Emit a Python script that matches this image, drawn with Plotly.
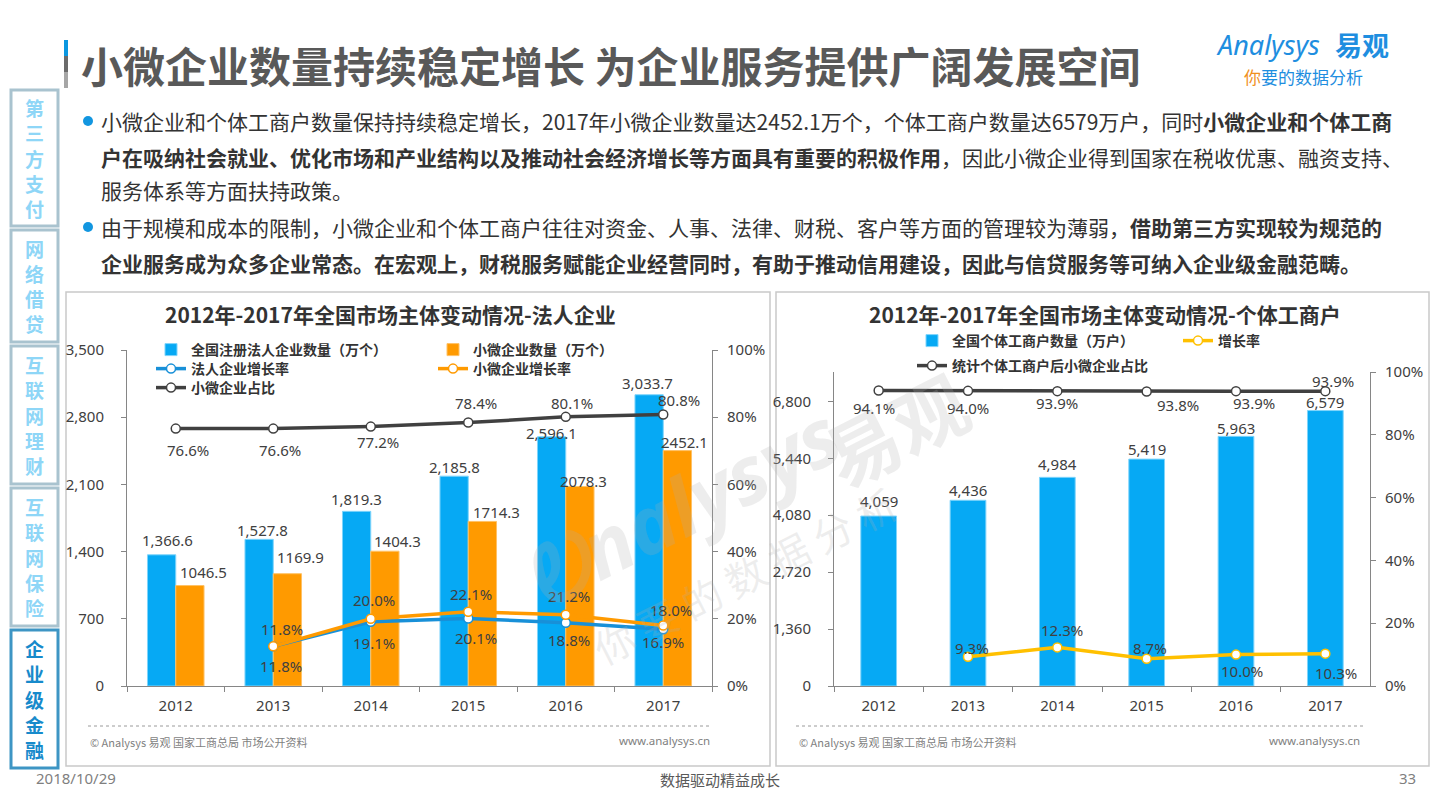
import plotly.graph_objects as go

W, H = 1440, 810
def px(x): return x / W
def py(y): return 1 - y / H

FONT_CJK = "Noto Sans CJK SC, Noto Sans, sans-serif"
FONT_NUM = "Noto Sans, Noto Sans CJK SC, sans-serif"
TXT = "#404040"

# ---------------- data ----------------
years = ["2012", "2013", "2014", "2015", "2016", "2017"]
corp_total = [1366.6, 1527.8, 1819.3, 2185.8, 2596.1, 3033.7]      # 全国注册法人企业数量（万个）
corp_small = [1046.5, 1169.9, 1404.3, 1714.3, 2078.3, 2452.1]      # 小微企业数量（万个）
corp_growth = [None, 11.8, 19.1, 20.1, 18.8, 16.9]                 # 法人企业增长率 %
small_growth = [None, 11.8, 20.0, 22.1, 21.2, 18.0]                # 小微企业增长率 %
small_share = [76.6, 76.6, 77.2, 78.4, 80.1, 80.8]                 # 小微企业占比 %

indiv_total = [4059, 4436, 4984, 5419, 5963, 6579]                 # 全国个体工商户数量（万户）
indiv_growth = [None, 9.3, 12.3, 8.7, 10.0, 10.3]                  # 增长率 %
indiv_share = [94.1, 94.0, 93.9, 93.8, 93.9, 93.9]                 # 统计个体工商户后小微企业占比 %

left_ticks = [0, 700, 1400, 2100, 2800, 3500]
right_ticks = [0, 1360, 2720, 4080, 5440, 6800]

# label offsets (px, screen: +x right, +y down)
corp_total_dx = [6, 3, 0, 0, 0, -2];      corp_total_dy = [-15, -9, -12, -9, -4, -12]
corp_small_dx = [14, 13, 13, 14, 4, 7];   corp_small_dy = [-14, -17, -10, -9, -5, -9]
small_share_dx = [12, 7, 7, 8, 6, 16];    small_share_dy = [21, 21, 15, -20, -14, -15]
small_growth_dx = [0, 9, 3, 3, 3, 8];     small_growth_dy = [0, -17, -19, -18, -19, -16]
corp_growth_dx = [0, 8, 3, 8, 3, 0];      corp_growth_dy = [0, 20, 21, 20, 17, 13]
indiv_total_dy = [-15, -10, -13, -10, -8, -9]
indiv_share_dx = [-5, 0, 0, 31, 18, 8];   indiv_share_dy = [17, 17, 12, 14, 12, -10]
indiv_growth_dx = [0, 4, 5, 3, 6, 11];    indiv_growth_dy = [0, -9, -17, -11, 16, 19]

BLUE = "#06A9F4"
ORANGE = "#FF9A00"
BLUE_LINE = "#1890D8"
BLACK_LINE = "#404040"
YELLOW = "#FFC000"

fig = go.Figure()

def line_trace(y, color, name, xa, ya, legend, width=3.5):
    return go.Scatter(
        x=years, y=[None if v is None else v / 100 for v in y], name=name,
        mode="lines+markers", xaxis=xa, yaxis=ya, legend=legend,
        line=dict(color=color, width=width),
        marker=dict(symbol="circle", size=9, color="white", line=dict(color=color, width=1.5)),
        cliponaxis=False, hoverinfo="skip")

# left chart
fig.add_trace(go.Bar(x=years, y=corp_total, name="全国注册法人企业数量（万个）", width=0.29, offset=-0.29,
                     marker=dict(color=BLUE, line=dict(color="#7fd4fb", width=1)), xaxis="x", yaxis="y",
                     legend="legend", hoverinfo="skip"))
fig.add_trace(go.Bar(x=years, y=corp_small, name="小微企业数量（万个）", width=0.29, offset=0,
                     marker=dict(color=ORANGE, line=dict(color="#ffc266", width=1)), xaxis="x", yaxis="y",
                     legend="legend", hoverinfo="skip"))
fig.add_trace(line_trace(corp_growth, BLUE_LINE, "法人企业增长率", "x", "y2", "legend2"))
fig.add_trace(line_trace(small_growth, ORANGE, "小微企业增长率", "x", "y2", "legend2"))
fig.add_trace(line_trace(small_share, BLACK_LINE, "小微企业占比", "x", "y2", "legend3"))

# right chart
fig.add_trace(go.Bar(x=years, y=indiv_total, name="全国个体工商户数量（万户）", width=0.4, offset=-0.2,
                     marker=dict(color=BLUE, line=dict(color="#7fd4fb", width=1)), xaxis="x2", yaxis="y3",
                     legend="legend4", hoverinfo="skip"))
fig.add_trace(line_trace(indiv_growth, YELLOW, "增长率", "x2", "y4", "legend4"))
fig.add_trace(line_trace(indiv_share, BLACK_LINE, "统计个体工商户后小微企业占比", "x2", "y4", "legend5"))

ann = []
def lab(text, x, y, xref, yref, dx, dy, size=15):
    ann.append(dict(text=text, x=x, y=y, xref=xref, yref=yref, xshift=dx, yshift=-dy,
                    showarrow=False, xanchor="center", yanchor="middle",
                    font=dict(family=FONT_NUM, size=size, color=TXT)))

for i in range(len(years)):
    lab(f"{corp_total[i]:,.1f}", i - 0.145, corp_total[i], "x", "y", corp_total_dx[i], corp_total_dy[i])
    lab(f"{corp_small[i]:.1f}", i + 0.145, corp_small[i], "x", "y", corp_small_dx[i], corp_small_dy[i])
    lab(f"{small_share[i]:.1f}%", i, small_share[i] / 100, "x", "y2", small_share_dx[i], small_share_dy[i])
    if small_growth[i] is not None:
        lab(f"{small_growth[i]:.1f}%", i, small_growth[i] / 100, "x", "y2", small_growth_dx[i], small_growth_dy[i])
    if corp_growth[i] is not None:
        lab(f"{corp_growth[i]:.1f}%", i, corp_growth[i] / 100, "x", "y2", corp_growth_dx[i], corp_growth_dy[i])
    lab(f"{indiv_total[i]:,}", i, indiv_total[i], "x2", "y3", 0, indiv_total_dy[i])
    lab(f"{indiv_share[i]:.1f}%", i, indiv_share[i] / 100, "x2", "y4", indiv_share_dx[i], indiv_share_dy[i])
    if indiv_growth[i] is not None:
        lab(f"{indiv_growth[i]:.1f}%", i, indiv_growth[i] / 100, "x2", "y4", indiv_growth_dx[i], indiv_growth_dy[i])

def note(text, x, y, size, color=TXT, xanchor="left", family=FONT_CJK, angle=0, weight=None):
    f = dict(family=family, size=size, color=color)
    if weight:
        f["weight"] = weight
    ann.append(dict(text=text, x=px(x), y=py(y), xref="paper", yref="paper", showarrow=False,
                    xanchor=xanchor, yanchor="middle", textangle=angle, font=f, align="left"))

# slide title
note("<b>小微企业数量持续稳定增长 为企业服务提供广阔发展空间</b>", 79, 64, 42, "#595959")
# logo
note("<i>Analysys</i>", 1214, 44, 27, "#1E8EE0", family="Noto Sans, sans-serif")
note("<b>易观</b>", 1333, 44, 27, "#1E8EE0")
note("<span style='color:#F0901E'>你</span>要的数据分析", 1242, 76, 17, "#1E8EE0")

# bullets
bullets = [
    (121, "小微企业和个体工商户数量保持持续稳定增长，2017年小微企业数量达2452.1万个，个体工商户数量达6579万户，同时<b>小微企业和个体工商</b>"),
    (157, "<b>户在吸纳社会就业、优化市场和产业结构以及推动社会经济增长等方面具有重要的积极作用</b>，因此小微企业得到国家在税收优惠、融资支持、"),
    (190, "服务体系等方面扶持政策。"),
    (227, "由于规模和成本的限制，小微企业和个体工商户往往对资金、人事、法律、财税、客户等方面的管理较为薄弱，<b>借助第三方实现较为规范的</b>"),
    (263, "<b>企业服务成为众多企业常态。在宏观上，财税服务赋能企业经营同时，有助于推动信用建设，因此与信贷服务等可纳入企业级金融范畴。</b>"),
]
for y, t in bullets:
    note(t, 99, y, 21, "#333333")

# chart titles
note("<b>2012年-2017年全国市场主体变动情况-法人企业</b>", 390, 314, 21, "#333333", xanchor="center")
note("<b>2012年-2017年全国市场主体变动情况-个体工商户</b>", 1105, 314, 21, "#333333", xanchor="center")

# sources
note("© Analysys 易观 国家工商总局 市场公开资料", 88, 742, 11, "#7f7f7f")
note("www.analysys.cn", 712, 740, 11.5, "#7f7f7f", xanchor="right", family=FONT_NUM)
note("© Analysys 易观 国家工商总局 市场公开资料", 797, 742, 11, "#7f7f7f")
note("www.analysys.cn", 1362, 740, 11.5, "#7f7f7f", xanchor="right", family=FONT_NUM)

# footer
note("2018/10/29", 34, 778, 15, "#7f7f7f", family=FONT_NUM)
note("数据驱动精益成长", 720, 779, 15, "#595959", xanchor="center")
note("33", 1418, 778, 15, "#7f7f7f", xanchor="right", family=FONT_NUM)

# watermark
WM = "rgba(175,175,175,0.22)"
note("<b><i>Ꭷnalysys</i></b>", 680, 505, 80, WM, xanchor="center", family="Noto Sans, sans-serif", angle=-27)
note("<b>易观</b>", 895, 428, 74, WM, xanchor="center", angle=-27)
note("你 要 的 数 据 分 析", 745, 575, 40, WM, xanchor="center", angle=-27)

# sidebar tabs
tabs = [("第三方支付", 90, 226), ("网络借贷", 230, 342), ("互联网理财", 346, 484),
        ("互联网保险", 488, 626), ("企业级金融", 630, 768)]
shapes = []
for k, (name, y0, y1) in enumerate(tabs):
    active = (k == len(tabs) - 1)
    shapes.append(dict(type="rect", xref="paper", yref="paper", x0=px(11), x1=px(58), y0=py(y1), y1=py(y0),
                       line=dict(color="#3d95c4" if active else "#a9c3cf", width=3), fillcolor="white", layer="below"))
    n = len(name)
    yc = (y0 + y1) / 2
    for j, ch in enumerate(name):
        note("<b>" + ch + "</b>", 34.5, yc + (j - (n - 1) / 2) * 25.2, 19,
             "#178ACB" if active else "#8ED6F7", xanchor="center")

# title bar
shapes += [
    dict(type="rect", xref="paper", yref="paper", x0=px(64), x1=px(68), y0=py(56), y1=py(40), line=dict(width=0), fillcolor="#0A97E0"),
    dict(type="rect", xref="paper", yref="paper", x0=px(64), x1=px(68), y0=py(72), y1=py(56), line=dict(width=0), fillcolor="#6B6B6B"),
    dict(type="rect", xref="paper", yref="paper", x0=px(64), x1=px(68), y0=py(88), y1=py(72), line=dict(width=0), fillcolor="#A6A6A6"),
]
# bullet dots
for y, _ in [bullets[0], bullets[3]]:
    shapes.append(dict(type="circle", xref="paper", yref="paper", x0=px(83), x1=px(93), y0=py(y + 5), y1=py(y - 5),
                       line=dict(width=0), fillcolor="#1296E0"))
# chart frames
shapes.append(dict(type="rect", xref="paper", yref="paper", x0=px(66), x1=px(770), y0=py(766), y1=py(292),
                   line=dict(color="#c9c9c9", width=1.5), layer="below"))
shapes.append(dict(type="rect", xref="paper", yref="paper", x0=px(776), x1=px(1429), y0=py(766), y1=py(292),
                   line=dict(color="#c9c9c9", width=1.5), layer="below"))
# dotted separators
shapes.append(dict(type="line", xref="paper", yref="paper", x0=px(88), x1=px(712), y0=py(726), y1=py(726),
                   line=dict(color="#9a9a9a", width=1, dash="dot")))
shapes.append(dict(type="line", xref="paper", yref="paper", x0=px(796), x1=px(1364), y0=py(726), y1=py(726),
                   line=dict(color="#9a9a9a", width=1, dash="dot")))

axis_common = dict(showgrid=False, zeroline=False, showline=True, linecolor="#868686", linewidth=1,
                   ticks="outside", ticklen=5, tickcolor="#868686", automargin=False,
                   tickfont=dict(family=FONT_NUM, size=15, color=TXT))

def legend_cfg(x, y, ew):
    return dict(orientation="h", x=px(x), y=py(y), xanchor="left", yanchor="middle",
                bgcolor="rgba(0,0,0,0)", entrywidth=ew, entrywidthmode="pixels", itemwidth=30,
                font=dict(family=FONT_CJK, size=14, color="#333333", weight="bold"), traceorder="normal",
                itemclick=False, itemdoubleclick=False)

fig.update_layout(
    width=W, height=H, margin=dict(l=0, r=0, t=0, b=0, autoexpand=False),
    paper_bgcolor="white", plot_bgcolor="rgba(0,0,0,0)",
    barmode="overlay",
    xaxis=dict(axis_common, domain=[px(127), px(712)], anchor="y", type="category", tickson="boundaries",
               ticklabelstandoff=6),
    yaxis=dict(axis_common, domain=[py(686), py(350)], anchor="x", range=[0, 3500], tickvals=left_ticks,
               tickformat=",", ticklabelstandoff=14),
    yaxis2=dict(axis_common, overlaying="y", anchor="x", side="right", range=[0, 1], dtick=0.2,
                tickformat=".0%", ticklabelstandoff=6),
    xaxis2=dict(axis_common, domain=[px(834), px(1370)], anchor="y3", type="category", tickson="boundaries",
                ticklabelstandoff=6),
    yaxis3=dict(axis_common, domain=[py(686), py(372)], anchor="x2", range=[0, 7500], tickvals=right_ticks,
                tickformat=",", ticklabelstandoff=14),
    yaxis4=dict(axis_common, overlaying="y3", anchor="x2", side="right", range=[0, 1], dtick=0.2,
                tickformat=".0%", ticklabelstandoff=6),
    legend=legend_cfg(151, 350, 237),
    legend2=legend_cfg(151, 369, 237),
    legend3=legend_cfg(151, 388, 237),
    legend4=legend_cfg(912, 341, 221),
    legend5=legend_cfg(912, 366, 221),
    annotations=ann, shapes=shapes, showlegend=True,
)

fig.write_html("out.html", config={"displayModeBar": False},
               post_script="document.body.style.margin='0';document.body.style.overflow='hidden';")
